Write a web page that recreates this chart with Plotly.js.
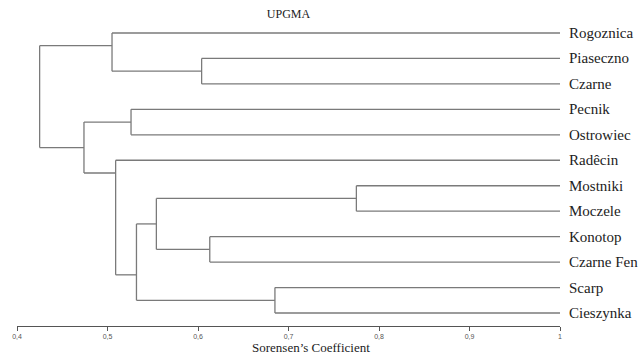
<!DOCTYPE html>
<html>
<head>
<meta charset="utf-8">
<script src="https://cdn.plot.ly/plotly-3.0.1.min.js"></script>
<style>html,body{margin:0;padding:0;background:#fff;}#chart{width:643px;height:360px;}</style>
</head>
<body>
<div id="chart"></div>
<script>
// Leaves in display order (top to bottom)
const leaves = ["Rogoznica","Piaseczno","Czarne","Pecnik","Ostrowiec","Radêcin",
                "Mostniki","Moczele","Konotop","Czarne Fen","Scarp","Cieszynka"];
// Merges (linkage style): leaf ids 0..11, new clusters 12, 13, ...
const mergeLeft   = [6, 8, 10, 1, 3, 12, 17, 5, 0, 16, 20];
const mergeRight  = [7, 9, 11, 2, 4, 13, 14, 18, 15, 19, 21];
const mergeHeight = [0.775, 0.613, 0.685, 0.604, 0.526, 0.554, 0.532, 0.509, 0.505, 0.474, 0.425];
const tickVals = [0.4, 0.5, 0.6, 0.7, 0.8, 0.9, 1.0];

const n = leaves.length;
const nodeX = [], nodeConn = [], nodeMin = [], nodeMax = [];
for (let i = 0; i < n; i++) { nodeX[i] = 1.0; nodeConn[i] = i; nodeMin[i] = i; nodeMax[i] = i; }
const xs = [], ys = [];
for (let k = 0; k < mergeLeft.length; k++) {
  const a = mergeLeft[k], b = mergeRight[k], h = mergeHeight[k], id = n + k;
  nodeX[id] = h;
  nodeMin[id] = Math.min(nodeMin[a], nodeMin[b]);
  nodeMax[id] = Math.max(nodeMax[a], nodeMax[b]);
  nodeConn[id] = (nodeMax[a] + nodeMin[b]) / 2;
  // horizontal branches
  xs.push(nodeX[a], h, null); ys.push(nodeConn[a], nodeConn[a], null);
  xs.push(nodeX[b], h, null); ys.push(nodeConn[b], nodeConn[b], null);
  // vertical
  xs.push(h, h, null); ys.push(nodeConn[a], nodeConn[b], null);
}

const trace = {
  x: xs, y: ys, type: 'scatter', mode: 'lines',
  line: {color: '#7a7a7a', width: 1.3},
  hoverinfo: 'skip', showlegend: false, connectgaps: false
};

const annotations = leaves.map((name, i) => ({
  x: 1.0, y: i, xref: 'x', yref: 'y', text: name, showarrow: false,
  xanchor: 'left', yanchor: 'middle', xshift: 7,
  font: {family: 'Liberation Serif, Times New Roman, serif', size: 15, color: '#222'}
}));
annotations.push({
  x: 0.541, y: 0, xref: 'paper', yref: 'paper', yshift: -21,
  text: 'Sorensen’s Coefficient', showarrow: false,
  xanchor: 'center', yanchor: 'middle',
  font: {family: 'Liberation Serif, Times New Roman, serif', size: 13, color: '#222'}
});

const layout = {
  width: 643, height: 360,
  margin: {l: 17, r: 83, t: 20, b: 34},
  paper_bgcolor: '#fff', plot_bgcolor: '#fff',
  separators: ',.',
  title: {text: 'UPGMA', x: 0.5, xref: 'paper', xanchor: 'center', y: 0.961, yref: 'container', yanchor: 'middle',
          font: {family: 'Liberation Serif, Times New Roman, serif', size: 12, color: '#222'}},
  xaxis: {
    range: [0.4, 1.0], tickvals: tickVals, showgrid: false, zeroline: false,
    showline: true, linecolor: '#555', linewidth: 1,
    ticks: 'outside', ticklen: 4, tickcolor: '#555', tickwidth: 1,
    tickfont: {family: 'Liberation Sans, Arial, sans-serif', size: 7, color: '#555'},
    fixedrange: true
  },
  yaxis: {range: [11.51, -0.51], visible: false, showgrid: false, zeroline: false, fixedrange: true},
  annotations: annotations
};

Plotly.newPlot('chart', [trace], layout, {displayModeBar: false, staticPlot: true});
</script>
</body>
</html>
